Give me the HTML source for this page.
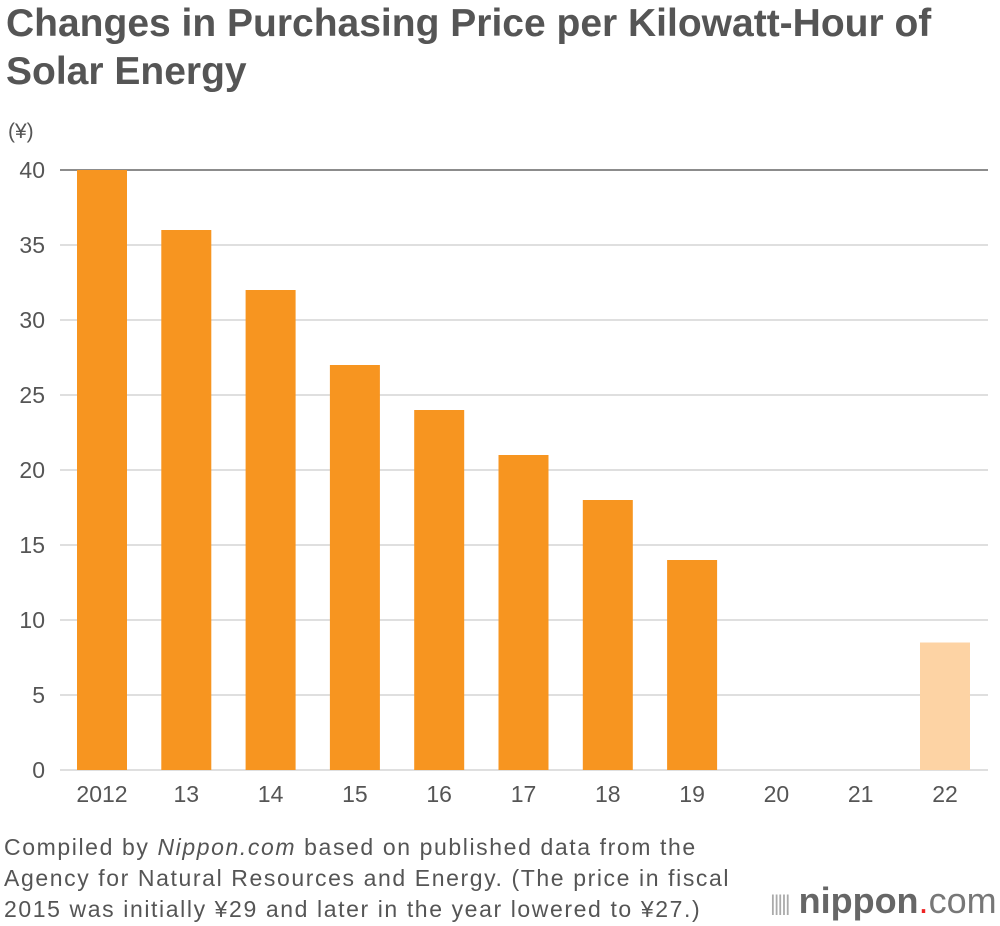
<!DOCTYPE html>
<html><head><meta charset="utf-8"><style>
body{margin:0;width:1000px;height:926px;background:#fff;font-family:"Liberation Sans",sans-serif;color:#555;position:relative;overflow:hidden}
h1{position:absolute;left:6px;top:0px;margin:0;font-size:39px;line-height:48px;font-weight:bold;color:#555;letter-spacing:0px}
.src{position:absolute;left:4px;top:832px;font-size:23px;line-height:31px;color:#555;letter-spacing:1.6px;white-space:nowrap}
.logo{position:absolute;left:770px;top:880px;font-size:36px;color:#666}
</style></head><body>
<h1>Changes in Purchasing Price per Kilowatt-Hour of<br>Solar Energy</h1>
<svg id="c" width="1000" height="830" style="position:absolute;left:0;top:0"></svg>
<div class="src">Compiled by <i>Nippon.com</i> based on published data from the<br>Agency for Natural Resources and Energy. (The price in fiscal<br>2015 was initially ¥29 and later in the year lowered to ¥27.)</div>
<div class="logo"><span style="font-size:22px;letter-spacing:-2px;color:#aaa;vertical-align:middle">|||||</span> <b style="color:#666">nippon</b><span style="color:#e22">.</span><span style="color:#777">com</span></div>
<script>
const categories=["2012","13","14","15","16","17","18","19","20","21","22"];
const values=[40,36,32,27,24,21,18,14,null,null,8.5];
const ticks=[0,5,10,15,20,25,30,35,40];
const svg=document.getElementById('c');const NS="http://www.w3.org/2000/svg";
const y=v=>770-v*15;const x=i=>102+i*84.3;
function mk(t,a){const e=document.createElementNS(NS,t);for(const k in a)e.setAttribute(k,a[k]);svg.appendChild(e);return e;}
ticks.forEach(t=>{
 const l=mk('line',{x1:60,x2:988,y1:y(t),y2:y(t),stroke:t==40?'#666':'#ccc','stroke-width':t==40?1.5:1.2});
 
 
 const tx=mk('text',{x:45,y:y(t)+8,'text-anchor':'end','font-size':23,fill:'#555'});tx.textContent=t;
 
 
});
const u=mk('text',{x:8,y:138,'font-size':21,fill:'#555'});u.textContent='(¥)';


categories.forEach((c,i)=>{
 const v=values[i];
 if(v!=null){const r=mk('rect',{x:x(i)-25,y:y(v),width:50,height:y(0)-y(v),fill:i==10?'#fdd3a4':'#f79520'});
  
  }
 const t=mk('text',{x:x(i),y:802,'text-anchor':'middle','font-size':23,fill:'#555'});t.textContent=c;
 
 
});
</script>
</body></html>
